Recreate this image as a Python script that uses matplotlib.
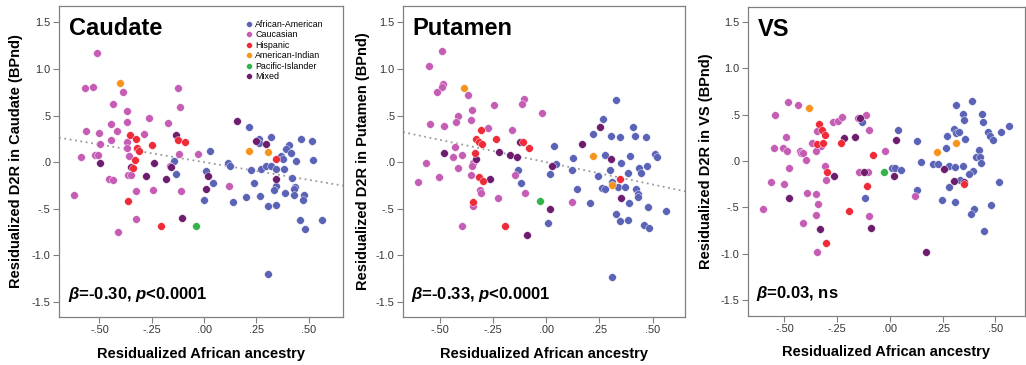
import matplotlib
matplotlib.use("Agg")
import matplotlib.pyplot as plt
from matplotlib.lines import Line2D

plt.rcParams["font.family"] = ["Liberation Sans", "DejaVu Sans"]
plt.rcParams["mathtext.fontset"] = "custom"
plt.rcParams["mathtext.it"] = "Liberation Sans:italic:bold"
plt.rcParams["mathtext.rm"] = "Liberation Sans:bold"
plt.rcParams["mathtext.bf"] = "Liberation Sans:bold"

GROUPS = ["African-American", "Caucasian", "Hispanic",
          "American-Indian", "Pacific-Islander", "Mixed"]
GROUP_COLORS = ["#5b63b7", "#c65db5", "#ee2b38", "#f7941e", "#33b34a", "#6d1c6e"]

PANEL_TITLES = ["Caudate", "Putamen", "VS"]
PANEL_STATS = [r"$\beta$=-0.30, $p$<0.0001", r"$\beta$=-0.33, $p$<0.0001", r"$\beta$=0.03, ns"]
FIT_SLOPES = [-0.38, -0.48, None]
FIT_INTERCEPTS = [0.0, 0.0, None]

X_TICKS = [-0.5, -0.25, 0.0, 0.25, 0.5]
X_TICK_LABELS = ["-.50", "-.25", ".00", ".25", ".50"]
Y_TICKS = [-1.5, -1.0, -0.5, 0.0, 0.5, 1.0, 1.5]
Y_TICK_LABELS = ["-1.5", "-1.0", "-.5", ".0", ".5", "1.0", "1.5"]

# (x, y) per subject
caudate_aa = [(0.217, 0.38), (0.027, 0.118), (0.261, 0.254), (0.261, 0.208), (0.322, 0.265),
              (0.465, 0.251), (0.514, 0.226), (0.406, 0.183), (0.393, 0.14), (0.414, 0.10),
              (0.369, 0.065), (0.379, 0.036), (0.441, 0.007), (0.521, 0.022), (0.115, -0.014),
              (0.123, -0.039), (0.226, -0.079), (0.274, -0.075), (0.298, -0.039), (0.322, -0.039),
              (0.342, -0.075), (0.382, -0.072), (0.01, -0.097), (0.043, -0.222), (0.0, -0.41),
              (0.237, -0.226), (0.422, -0.168), (0.342, -0.258), (0.336, -0.294), (0.435, -0.265),
              (0.43, -0.29), (0.43, -0.358), (0.387, -0.33), (0.478, -0.355), (0.473, -0.409),
              (0.139, -0.427), (0.199, -0.369), (0.269, -0.366), (0.306, -0.466), (0.342, -0.455),
              (0.457, -0.616), (0.481, -0.72), (0.564, -0.624), (0.304, -1.20), (-0.145, 0.01),
              (-0.132, -0.13)]
caudate_c = [(-0.51, 1.176), (-0.57, 0.80), (-0.53, 0.81), (-0.387, 0.756), (-0.433, 0.624),
             (-0.366, 0.548), (-0.124, 0.792), (-0.115, 0.595), (-0.261, 0.47), (-0.443, 0.405),
             (-0.369, 0.434), (-0.17, 0.416), (-0.565, 0.333), (-0.502, 0.308), (-0.416, 0.333),
             (-0.287, 0.297), (-0.444, 0.24), (-0.497, 0.20), (-0.366, 0.219), (-0.369, 0.154),
             (-0.118, 0.09), (-0.03, 0.09), (-0.586, 0.057), (-0.522, 0.082), (-0.506, 0.072),
             (-0.36, 0.065), (-0.161, -0.043), (-0.361, -0.14), (-0.349, -0.14), (-0.454, -0.179),
             (-0.435, -0.194), (-0.326, -0.312), (-0.244, -0.297), (-0.111, -0.312), (-0.623, -0.348),
             (-0.323, -0.609), (-0.412, -0.753), (0.118, -0.254)]
caudate_h = [(-0.352, 0.294), (-0.323, 0.247), (-0.248, 0.186), (-0.318, 0.154), (-0.31, 0.115),
             (-0.124, 0.237), (-0.092, 0.219), (-0.331, 0.022), (-0.339, -0.068), (-0.363, -0.412),
             (-0.207, -0.685), (0.344, 0.036)]
caudate_i = [(-0.403, 0.846), (0.215, 0.118), (0.306, 0.111)]
caudate_p = [(-0.04, -0.685)]
caudate_m = [(0.159, 0.444), (0.25, 0.23), (0.298, 0.194), (0.346, -0.176), (0.019, -0.151),
             (0.008, -0.283), (-0.105, -0.599), (-0.135, 0.294), (-0.156, -0.05), (-0.498, -0.004),
             (-0.35, -0.05), (-0.239, -0.011), (-0.279, -0.147), (-0.18, -0.183)]

putamen_aa = [(0.327, 0.667), (0.266, 0.459), (0.408, 0.373), (0.222, 0.297), (0.305, 0.28),
              (0.345, 0.272), (0.417, 0.283), (0.467, 0.265), (0.036, 0.172), (0.128, 0.047),
              (0.277, 0.079), (0.394, 0.061), (0.513, 0.09), (0.522, 0.05), (0.048, -0.025),
              (0.353, -0.004), (0.017, -0.129), (0.122, -0.086), (0.244, -0.147), (0.302, -0.086),
              (0.384, -0.115), (0.436, -0.068), (0.444, -0.115), (0.475, -0.043), (0.309, -0.215),
              (0.264, -0.276), (0.275, -0.287), (0.338, -0.265), (0.369, -0.262), (0.423, -0.287),
              (0.43, -0.337), (0.433, -0.373), (0.144, -0.287), (0.205, -0.441), (0.389, -0.434),
              (0.478, -0.484), (0.563, -0.52), (0.008, -0.649), (0.328, -0.556), (0.345, -0.631),
              (0.383, -0.62), (0.459, -0.674), (0.483, -0.706), (0.308, -1.237), (-0.134, -0.082),
              (-0.119, -0.222)]
putamen_c = [(-0.491, 1.197), (-0.548, 1.032), (-0.483, 0.835), (-0.488, 0.803), (-0.511, 0.756),
             (-0.369, 0.717), (-0.245, 0.613), (-0.103, 0.681), (-0.113, 0.627), (-0.019, 0.53),
             (-0.35, 0.563), (-0.416, 0.491), (-0.425, 0.434), (-0.353, 0.452), (-0.545, 0.405),
             (-0.478, 0.384), (-0.275, 0.369), (-0.158, 0.348), (-0.427, 0.168), (-0.436, 0.057),
             (-0.397, 0.075), (-0.344, -0.007), (-0.347, -0.039), (-0.566, -0.007), (-0.414, -0.061),
             (-0.503, -0.161), (-0.352, -0.136), (-0.147, -0.133), (-0.6, -0.208), (-0.309, -0.294),
             (-0.306, -0.326), (-0.098, -0.326), (-0.228, -0.38), (-0.345, -0.473), (-0.395, -0.681),
             (0.123, -0.427)]
putamen_h = [(-0.308, 0.344), (-0.327, 0.247), (-0.314, 0.219), (-0.303, 0.19), (-0.234, 0.254),
             (-0.108, 0.215), (-0.08, 0.147), (-0.334, 0.093), (-0.317, -0.161), (-0.295, -0.204),
             (-0.345, -0.43), (-0.194, -0.685), (0.345, -0.176)]
putamen_i = [(-0.384, 0.792), (0.22, 0.065), (0.309, -0.247)]
putamen_p = [(-0.027, -0.412)]
putamen_m = [(-0.48, 0.093), (-0.331, 0.036), (-0.222, 0.104), (-0.169, 0.079), (-0.139, 0.057),
             (-0.123, 0.219), (-0.263, -0.176), (-0.092, -0.781), (0.255, 0.38), (0.167, 0.194),
             (0.303, 0.039), (0.028, -0.043), (0.35, -0.38), (0.017, -0.498)]

vs_aa = [(-0.131, 0.417), (-0.118, -0.403), (0.313, 0.608), (0.387, 0.651), (0.347, 0.511),
         (0.349, 0.439), (0.434, 0.507), (0.44, 0.424), (0.038, 0.338), (0.305, 0.349),
         (0.313, 0.302), (0.329, 0.313), (0.269, 0.266), (0.355, 0.237), (0.465, 0.309),
         (0.473, 0.266), (0.486, 0.223), (0.525, 0.313), (0.566, 0.374), (0.13, 0.212),
         (0.267, 0.137), (0.42, 0.122), (0.41, 0.043), (0.429, 0.043), (0.432, -0.025),
         (0.148, -0.011), (0.206, -0.029), (0.226, -0.032), (0.278, -0.05), (0.307, -0.065),
         (0.346, -0.05), (0.395, -0.108), (0.373, -0.14), (0.009, -0.072), (0.022, -0.076),
         (0.052, -0.101), (0.332, -0.201), (0.519, -0.23), (0.278, -0.281), (0.13, -0.309),
         (0.247, -0.424), (0.31, -0.439), (0.396, -0.514), (0.385, -0.568), (0.481, -0.475),
         (0.447, -0.755)]
vs_c = [(-0.483, 0.633), (-0.436, 0.601), (-0.546, 0.496), (-0.272, 0.421), (-0.245, 0.435),
        (-0.226, 0.475), (-0.153, 0.464), (-0.112, 0.5), (-0.101, 0.338), (-0.344, 0.32),
        (-0.491, 0.255), (-0.368, 0.194), (-0.329, 0.158), (-0.549, 0.14), (-0.509, 0.144),
        (-0.489, 0.104), (-0.425, 0.112), (-0.42, 0.086), (-0.414, 0.086), (-0.352, 0.104),
        (-0.398, 0.011), (-0.022, 0.112), (-0.478, -0.079), (-0.308, -0.05), (-0.145, -0.119),
        (-0.102, -0.122), (-0.566, -0.23), (-0.503, -0.245), (-0.305, -0.205), (-0.395, -0.349),
        (-0.349, -0.36), (-0.343, -0.464), (-0.602, -0.514), (-0.099, -0.59), (-0.352, -0.586),
        (-0.414, -0.673), (-0.344, -0.978), (0.12, -0.381)]
vs_h = [(-0.335, 0.403), (-0.322, 0.331), (-0.307, 0.281), (-0.346, 0.187), (-0.316, 0.194),
        (-0.234, 0.194), (-0.079, 0.065), (-0.297, -0.115), (-0.11, -0.266), (-0.193, -0.54),
        (-0.303, -0.881), (0.349, -0.248)]
vs_i = [(-0.384, 0.568), (0.223, 0.094), (0.313, 0.198)]
vs_p = [(-0.027, -0.122)]
vs_m = [(-0.14, 0.464), (-0.22, 0.245), (-0.165, 0.259), (-0.263, -0.165), (-0.121, -0.122),
        (-0.48, -0.396), (-0.333, -0.73), (-0.091, -0.719), (0.028, 0.23), (0.019, -0.158),
        (0.258, -0.083), (0.305, -0.219), (0.352, -0.23), (0.17, -0.978)]

PANEL_POINTS = [
    [caudate_aa, caudate_c, caudate_h, caudate_i, caudate_p, caudate_m],
    [putamen_aa, putamen_c, putamen_h, putamen_i, putamen_p, putamen_m],
    [vs_aa, vs_c, vs_h, vs_i, vs_p, vs_m],
]
DRAW_ORDER = [0, 1, 5, 2, 3, 4]

W, H = 1026, 365
# axes boxes in pixels: left, top, right, bottom
AXES_PX = [(59, 6, 343, 317), (403, 6, 685, 317), (748, 7, 1025, 316)]
XLIMS = [(-0.693, 0.664), (-0.672, 0.652), (-0.673, 0.64)]
YLIMS = [(-1.663, 1.677), (-1.663, 1.677), (-1.67, 1.66)]
YLABEL_X = [-0.127, -0.117, -0.126]
FRAME = "#808080"

fig = plt.figure(figsize=(W / 100, H / 100), dpi=100)

for i, title in enumerate(PANEL_TITLES):
    l, t, r, b = AXES_PX[i]
    ax = fig.add_axes([l / W, 1 - b / H, (r - l) / W, (b - t) / H])
    for g in DRAW_ORDER:
        pts = PANEL_POINTS[i][g]
        ax.scatter([p[0] for p in pts], [p[1] for p in pts], s=31, color=GROUP_COLORS[g],
                   edgecolors="white", linewidths=0.3, zorder=3)
    if FIT_SLOPES[i] is not None:
        ax.axline((0, FIT_INTERCEPTS[i]), slope=FIT_SLOPES[i], color="#9a9a9a",
                  linestyle=(0, (1, 2)), linewidth=1.3, zorder=2)
    ax.set_xlim(*XLIMS[i])
    ax.set_ylim(*YLIMS[i])
    ax.set_xticks(X_TICKS, X_TICK_LABELS)
    ax.set_yticks(Y_TICKS, Y_TICK_LABELS)
    ax.tick_params(direction="out", length=4, width=0.8, color=FRAME,
                   labelsize=7.8, labelcolor="#333333", pad=2)
    for sp in ax.spines.values():
        sp.set_color(FRAME)
        sp.set_linewidth(0.9)

    ax.set_xlabel("Residualized African ancestry", fontsize=10.5, fontweight="bold")
    ax.xaxis.set_label_coords(0.5, -0.095)
    ax.set_ylabel(f"Residualized D2R in {title} (BPnd)", fontsize=10.5, fontweight="bold")
    ax.yaxis.set_label_coords(YLABEL_X[i], 0.5)

    ax.text(0.035, 0.907, title, transform=ax.transAxes, fontsize=17,
            fontweight="bold", va="baseline", ha="left")
    ax.text(0.03, 0.058, PANEL_STATS[i], transform=ax.transAxes, fontsize=12,
            fontweight="bold", va="baseline", ha="left")

    if i == 0:
        handles = [Line2D([], [], marker="o", linestyle="none", markersize=4.2,
                          markerfacecolor=c, markeredgecolor="white", markeredgewidth=0.3)
                   for c in GROUP_COLORS]
        ax.legend(handles, GROUPS, loc="upper left", bbox_to_anchor=(0.655, 0.955),
                  frameon=False, fontsize=6.4, handlelength=0.8, handletextpad=0.35,
                  labelspacing=0.16, borderpad=0, borderaxespad=0)

fig.savefig("out.png", dpi=100)
